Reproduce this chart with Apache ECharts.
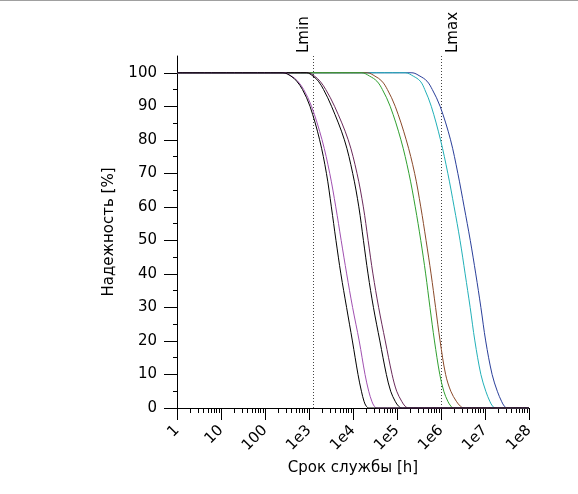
<!DOCTYPE html>
<html>
<head>
<meta charset="utf-8">
<script src="https://cdn.jsdelivr.net/npm/echarts@6/dist/echarts.min.js"></script>
<style>
    html, body { margin: 0; padding: 0; background: #fff; }
    #chart { width: 578px; height: 494px; }
    #edge { position: absolute; left: 0; top: 0; width: 578px; border-top: 1px solid #a0a0a0; }
</style>
</head>
<body>
<div id="chart"></div>
<div id="edge"></div>
<script>
// оси
var xTickValues = [1, 10, 100, 1e3, 1e4, 1e5, 1e6, 1e7, 1e8];
var xTickLabels = ['1', '10', '100', '1e3', '1e4', '1e5', '1e6', '1e7', '1e8'];
var xMinorSteps = [2, 3, 4, 5, 6, 7, 8, 9];
var yTickValues = [0, 10, 20, 30, 40, 50, 60, 70, 80, 90, 100];
var yMinorValues = [5, 15, 25, 35, 45, 55, 65, 75, 85, 95];
var markValues = [1250, 1e6];
var markLabels = ['Lmin', 'Lmax'];

// уровни надежности, %
var levels = [100, 100, 100, 99, 97.5, 95, 90, 80, 70, 60, 50, 40, 30, 20, 10, 5, 2, 0.5, 0, 0, 0];

// срок службы (ч) для каждого уровня, по кривым
var hoursA = [1, 136, 256, 389, 525, 711, 1054, 1743, 2490, 3221, 4100, 5302, 7148, 9690, 13000, 15540, 17810, 20090, 23260, 60000, 1e8];
var hoursB = [1, 144, 270, 399, 553, 757, 1140, 1978, 2961, 4058, 5386, 7186, 9793, 13840, 18760, 22780, 26810, 30560, 35390, 90000, 1e8];
var hoursC = [1, 473, 887, 1233, 1628, 2140, 3254, 6370, 9845, 13560, 17260, 21960, 29150, 40780, 57340, 71860, 91000, 109300, 131400, 330000, 1e8];
var hoursD = [1, 506, 949, 1335, 1781, 2401, 3810, 7777, 12330, 17170, 22080, 28400, 38290, 54130, 77330, 98420, 127900, 153800, 184700, 470000, 1e8];
var hoursE = [1, 8460, 15870, 23880, 34840, 46480, 69990, 122700, 186600, 259700, 346700, 448100, 561600, 710900, 938800, 1158000, 1429000, 1690000, 1957000, 5e6, 1e8];
var hoursF = [1, 11170, 20950, 31540, 45290, 60430, 91000, 162000, 251700, 346700, 457700, 594900, 753400, 953900, 1273000, 1672000, 2231000, 2781000, 3307000, 8e6, 1e8];
var hoursG = [1, 82000, 153800, 233900, 337600, 427500, 601200, 974100, 1429000, 1988000, 2709000, 3540000, 4601000, 5888000, 8065000, 10430000, 12860000, 14980000, 17260000, 4e7, 1e8];
var hoursH = [1, 116500, 218500, 332300, 479900, 633800, 953900, 1646000, 2414000, 3359000, 4626000, 6172000, 8065000, 10370000, 14510000, 19060000, 23760000, 27660000, 31880000, 6e7, 1e8];

// порядок отрисовки: последние сверху
var curves = [hoursH, hoursG, hoursF, hoursE, hoursD, hoursC, hoursB, hoursA];
var colors = ['#2a3f9a', '#22b0b8', '#8a4a2a', '#30a030', '#6a2a5a', '#000000', '#a050b0', '#000000'];

var font = 'DejaVu Sans';
var xMinorTicks = [];
xTickValues.slice(0, -1).forEach(function(d) {
    xMinorSteps.forEach(function(s) { xMinorTicks.push(d * s); });
});

function xLabel(v) {
    var i = Math.round(Math.log(v) / Math.LN10);
    return xTickLabels[i] || '';
}

var series = curves.map(function(hours, i) {
    return {
        type: 'line',
        xAxisIndex: 0,
        yAxisIndex: 0,
        data: hours.map(function(h, j) { return [h, levels[j]]; }),
        showSymbol: false,
        smooth: 0.35,
        lineStyle: { width: 1, color: colors[i] },
        itemStyle: { color: colors[i] },
        silent: true
    };
});

var chart = echarts.init(document.getElementById('chart'), null, { renderer: 'canvas' });
chart.setOption({
    animation: false,
    textStyle: { fontFamily: font },
    grid: { left: 177, right: 49, top: 56, bottom: 86, containLabel: false, outerBoundsMode: 'none' },
    xAxis: [
        {
            type: 'log', logBase: 10, min: 1, max: 1e8, position: 'bottom',
            axisLine: { onZero: false, lineStyle: { color: '#000', width: 1 } },
            axisTick: { length: 12, customValues: xTickValues, lineStyle: { color: '#000' } },
            axisLabel: { customValues: xTickValues, rotate: 45, margin: 20, fontSize: 15, color: '#000', fontFamily: font, formatter: xLabel },
            splitLine: { show: false },
            minorTick: { show: false },
            name: 'Срок службы [h]', nameLocation: 'middle', nameGap: 53, nameMoveOverlap: false,
            nameTextStyle: { fontSize: 15, color: '#000', fontFamily: font }
        },
        {
            type: 'log', logBase: 10, min: 1, max: 1e8, position: 'bottom',
            axisLine: { show: false },
            axisTick: { length: 5, customValues: xMinorTicks, lineStyle: { color: '#000' } },
            axisLabel: { show: false },
            splitLine: { show: false }
        },
        {
            type: 'log', logBase: 10, min: 1, max: 1e8, position: 'top',
            axisLine: { show: false },
            axisTick: { show: false, customValues: markValues },
            axisLabel: {
                customValues: markValues, rotate: 90, margin: 3, color: '#000',
                formatter: function(v) { return v < 1e5 ? '{a|' + markLabels[0] + '}' : '{b|' + markLabels[1] + '}'; },
                rich: {
                    a: { fontSize: 15, fontFamily: font, color: '#000', padding: [0, 0, 18, 0] },
                    b: { fontSize: 15, fontFamily: font, color: '#000', padding: [24, 0, 0, 0] }
                }
            },
            splitLine: { show: true, lineStyle: { color: '#444', width: 1, type: [1, 2] } }
        }
    ],
    yAxis: [
        {
            type: 'value', min: 0, max: 105, position: 'left',
            axisLine: { show: true, onZero: false, lineStyle: { color: '#000', width: 1 } },
            axisTick: { show: true, length: 13, customValues: yTickValues, lineStyle: { color: '#000' } },
            axisLabel: { customValues: yTickValues, margin: 20, fontSize: 15, color: '#000', fontFamily: font },
            splitLine: { show: false },
            name: 'Надежность [%]', nameLocation: 'middle', nameGap: 60, nameRotate: 90, nameMoveOverlap: false,
            nameTextStyle: { fontSize: 15, color: '#000', fontFamily: font }
        },
        {
            type: 'value', min: 0, max: 105, position: 'left',
            axisLine: { show: false },
            axisTick: { show: true, length: 4, customValues: yMinorValues, lineStyle: { color: '#000' } },
            axisLabel: { show: false },
            splitLine: { show: false }
        }
    ],
    series: series
});
</script>
</body>
</html>
